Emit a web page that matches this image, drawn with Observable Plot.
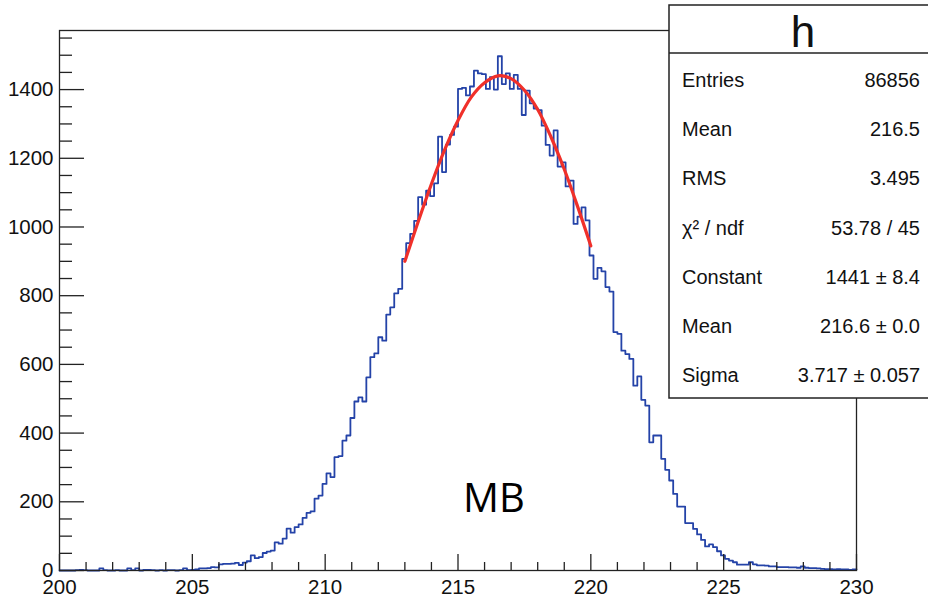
<!DOCTYPE html>
<html>
<head>
<meta charset="utf-8">
<script src="https://cdn.jsdelivr.net/npm/d3@7"></script>
<script src="https://cdn.jsdelivr.net/npm/@observablehq/plot@0.6"></script>
<style>
  html, body { margin: 0; padding: 0; background: #fff; }
  #chart svg { display: block; }
</style>
</head>
<body>
<div id="chart"></div>
<script>
// Histogram definition: 200 bins from 200 to 230
const binLow = 200;
const binWidth = 0.15;
const counts = [
  0, 0, 0, 0, 1, 2, 1, 0, 0, 0,
  6, 1, 0, 0, 1, 0, 0, 6, 1, 6,
  0, 2, 2, 1, 0, 1, 0, 1, 1, 0,
  1, 6, 1, 2, 3, 6, 6, 7, 10, 9,
  18, 19, 19, 20, 22, 16, 23, 27, 44, 36,
  39, 51, 55, 58, 82, 78, 93, 122, 110, 126,
  134, 153, 168, 172, 209, 218, 252, 283, 272, 330,
  333, 378, 393, 444, 492, 504, 492, 562, 621, 632,
  679, 669, 745, 766, 807, 820, 907, 953, 980, 1018,
  1087, 1065, 1106, 1090, 1127, 1263, 1160, 1240, 1268, 1292,
  1402, 1405, 1383, 1409, 1455, 1447, 1445, 1402, 1436, 1400,
  1497, 1416, 1447, 1402, 1443, 1402, 1326, 1397, 1360, 1345,
  1340, 1295, 1239, 1208, 1281, 1176, 1188, 1118, 1135, 1009,
  1030, 1057, 1019, 917, 849, 881, 871, 825, 812, 694,
  689, 640, 630, 616, 538, 565, 497, 480, 373, 393,
  393, 325, 293, 262, 223, 186, 186, 138, 138, 121,
  105, 89, 70, 76, 68, 56, 44, 34, 29, 24,
  17, 17, 17, 24, 18, 15, 15, 14, 12, 12,
  10, 10, 10, 9, 9, 8, 12, 8, 7, 7,
  6, 5, 4, 4, 3, 4, 3, 3, 2, 3
];

// Fit curve
const fitX = [213, 213.5, 214, 214.5, 215, 215.5, 216, 216.5, 217, 217.5, 218, 218.5, 219, 219.5, 220];
const fitY = [900, 1015, 1125, 1225, 1310, 1378, 1420, 1440, 1432, 1398, 1342, 1262, 1168, 1060, 945];

// Axis ticks
const xMajor = [200, 205, 210, 215, 220, 225, 230];
const xMinor = [201, 202, 203, 204, 206, 207, 208, 209, 211, 212, 213, 214, 216, 217, 218, 219, 221, 222, 223, 224, 226, 227, 228, 229];
const yMajor = [0, 200, 400, 600, 800, 1000, 1200, 1400];
const yMinor = [50, 100, 150, 250, 300, 350, 450, 500, 550, 650, 700, 750, 850, 900, 950, 1050, 1100, 1150, 1250, 1300, 1350, 1450, 1500, 1550];
const yMax = 1572;

// Stats box
const statTitle = "h";
const statLabels = ["Entries", "Mean", "RMS", "χ² / ndf", "Constant", "Mean", "Sigma"];
const statValues = ["86856", "216.5", "3.495", "53.78 / 45", "1441 ± 8.4", "216.6 ± 0.0", "3.717 ± 0.057"];
const annotation = "MB";

// Build tables
const histPts = counts.map((c, i) => ({x: binLow + i * binWidth, y: c}));
histPts.push({x: binLow + counts.length * binWidth, y: counts[counts.length - 1]});
const fitPts = fitX.map((x, i) => ({x, y: fitY[i]}));

const W = 928, H = 598;
const mL = 59, mR = 72, mT = 30, mB = 28;
const innerW = W - mL - mR, innerH = H - mT - mB;
const ink = "#222";

const chart = Plot.plot({
  width: W,
  height: H,
  marginLeft: mL,
  marginRight: mR,
  marginTop: mT,
  marginBottom: mB,
  style: {fontFamily: "'Liberation Sans', Arial, sans-serif", background: "#fff", overflow: "hidden"},
  x: {domain: [200, 230]},
  y: {domain: [0, yMax]},
  marks: [
    Plot.line(histPts, {x: "x", y: "y", curve: "step-after", stroke: "#2443a8", strokeWidth: 1.8}),
    Plot.line(fitPts, {x: "x", y: "y", curve: "catmull-rom", stroke: "#f0302a", strokeWidth: 3.2}),
    Plot.tickX(xMajor, {x: d => d, insetTop: innerH - 16, stroke: ink, strokeWidth: 1.3}),
    Plot.tickX(xMinor, {x: d => d, insetTop: innerH - 8, stroke: ink, strokeWidth: 1.3}),
    Plot.tickY(yMajor, {y: d => d, insetRight: innerW - 25, stroke: ink, strokeWidth: 1.3}),
    Plot.tickY(yMinor, {y: d => d, insetRight: innerW - 13, stroke: ink, strokeWidth: 1.3}),
    Plot.frame({stroke: ink, strokeWidth: 1.3}),
    Plot.axisX(xMajor, {tickSize: 0, tickPadding: 9, fontSize: 20.5, fill: "#111", label: null, tickFormat: d => String(d)}),
    Plot.axisY(yMajor, {tickSize: 0, tickPadding: 6, fontSize: 20.5, fill: "#111", label: null, tickFormat: d => String(d)})
  ]
});

document.getElementById("chart").appendChild(chart);

// Annotation and stats box
const svg = d3.select(chart);
svg.append("text")
  .attr("x", 494).attr("y", 512)
  .attr("text-anchor", "middle")
  .attr("font-family", "'Open Sans', 'Noto Sans', sans-serif")
  .attr("font-size", 40)
  .attr("fill", "#000")
  .text(annotation);

const box = svg.append("g")
  .attr("font-family", "'Liberation Sans', Arial, sans-serif")
  .attr("fill", "#111")
  .attr("text-anchor", "start");
box.append("rect")
  .attr("x", 669).attr("y", 5).attr("width", 262).attr("height", 393)
  .attr("fill", "#fff").attr("stroke", ink).attr("stroke-width", 1.5);
box.append("line")
  .attr("x1", 669).attr("x2", 931).attr("y1", 53).attr("y2", 53)
  .attr("stroke", ink).attr("stroke-width", 1.5);
box.append("text")
  .attr("x", 803).attr("y", 47)
  .attr("text-anchor", "middle")
  .attr("font-size", 44)
  .text(statTitle);
statLabels.forEach((lab, i) => {
  const yb = 87 + i * 49.2;
  box.append("text").attr("x", 682).attr("y", yb).attr("font-size", 20).attr("text-anchor", "start").text(lab);
  box.append("text").attr("x", 920).attr("y", yb).attr("font-size", 20).attr("text-anchor", "end").text(statValues[i]);
});
</script>
</body>
</html>
